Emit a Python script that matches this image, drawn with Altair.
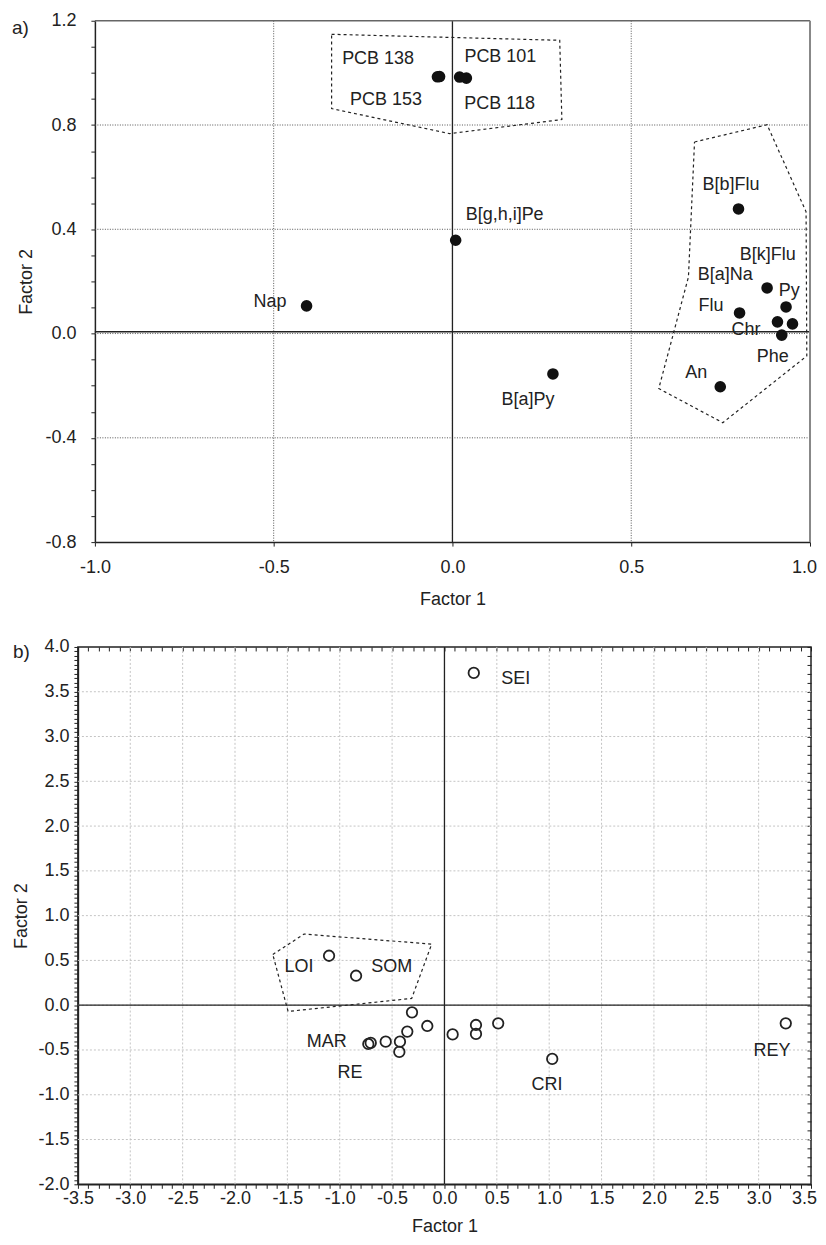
import altair as alt
import pandas as pd

FONT = "Liberation Sans"
INK = "#222222"

# ---------------- panel a) ----------------
a_names = ["PCB 138", "PCB 153", "PCB 101", "PCB 118", "B[g,h,i]Pe", "Nap", "B[a]Py",
           "B[b]Flu", "B[a]Na", "Py", "Flu", "B[k]Flu", "Chr", "Phe", "An"]
a_x = [-0.042, -0.036, 0.020, 0.039, 0.009, -0.408, 0.281,
       0.800, 0.880, 0.933, 0.803, 0.951, 0.909, 0.921, 0.749]
a_y = [0.985, 0.986, 0.984, 0.980, 0.358, 0.106, -0.155,
       0.478, 0.175, 0.102, 0.079, 0.037, 0.045, -0.006, -0.204]
a_lab_x = [-0.208, -0.186, 0.134, 0.132, 0.146, -0.510, 0.211,
           0.779, 0.763, 0.942, 0.723, 0.882, 0.821, 0.896, 0.682]
a_lab_y = [1.052, 0.897, 1.061, 0.880, 0.456, 0.121, -0.255,
           0.571, 0.226, 0.163, 0.106, 0.303, 0.013, -0.089, -0.153]

a_poly1_x = [-0.338, 0.300, 0.306, -0.008, -0.338, -0.338]
a_poly1_y = [1.148, 1.125, 0.821, 0.767, 0.863, 1.148]
a_poly2_x = [0.677, 0.880, 0.989, 0.991, 0.756, 0.577, 0.660, 0.677]
a_poly2_y = [0.735, 0.801, 0.467, -0.086, -0.342, -0.211, 0.217, 0.735]

a_xticks = [-1.0, -0.5, 0.0, 0.5, 1.0]
a_ygrid = [-0.8, -0.4, 0.0, 0.4, 0.8, 1.2]
a_yticks = [round(-0.8 + 0.1 * i, 2) for i in range(21)]

# ---------------- panel b) ----------------
b_names = ["SEI", "LOI", "SOM", "MAR", "RE", "", "", "", "", "", "", "", "", "", "", "CRI", "REY"]
b_x = [0.28, -1.102, -0.844, -0.727, -0.704, -0.561, -0.425, -0.431, -0.355, -0.310,
       -0.164, 0.078, 0.301, 0.301, 0.513, 1.029, 3.259]
b_y = [3.71, 0.552, 0.329, -0.433, -0.421, -0.407, -0.407, -0.522, -0.295, -0.080,
       -0.232, -0.326, -0.221, -0.321, -0.203, -0.600, -0.203]
b_lab_names = ["SEI", "LOI", "SOM", "MAR", "RE", "CRI", "REY"]
b_lab_x = [0.68, -1.388, -0.504, -1.124, -0.902, 0.979, 3.128]
b_lab_y = [3.64, 0.421, 0.429, -0.407, -0.760, -0.890, -0.507]

b_poly_x = [-1.639, -1.341, -0.122, -0.313, -1.493, -1.639]
b_poly_y = [0.566, 0.794, 0.682, 0.076, -0.070, 0.566]

b_grid_x = [-3.5, -3.0, -2.5, -2.0, -1.5, -1.0, -0.5, 0.0, 0.5, 1.0, 1.5, 2.0, 2.5, 3.0, 3.5]
b_grid_y = [-2.0, -1.5, -1.0, -0.5, 0.0, 0.5, 1.0, 1.5, 2.0, 2.5, 3.0, 3.5, 4.0]
b_xticks = [round(-3.5 + 0.1 * i, 2) for i in range(71)]
b_yticks_left = [round(-2.0 + 0.05 * i, 3) for i in range(121)]
b_yticks_right = [round(-2.0 + 0.1 * i, 2) for i in range(61)]

PW = 734      # group width of both panels
A_H = 522
B_H = 538
A_SHIFT = 17  # panel a) plot starts 17px right of panel b) plot


def lab_expr(step):
    return (f"(abs(datum.value/{step} - round(datum.value/{step})) < 0.01) ? "
            "((datum.value < -0.001 ? '-' : '') + format(abs(datum.value), '.1f')) : ''")


def last_label_offset(vmax, dx):
    # keep the right-most tick label inside the page
    return {"condition": {"test": f"datum.value >= {vmax - 0.01}", "value": dx}, "value": 0}


# ================= build panel a =================
df_a = pd.DataFrame({"name": a_names, "x": a_x, "y": a_y})
df_a_lab = pd.DataFrame({"name": a_names, "x": a_lab_x, "y": a_lab_y})
df_a_poly = pd.DataFrame({
    "poly": ["p1"] * len(a_poly1_x) + ["p2"] * len(a_poly2_x),
    "ord": list(range(len(a_poly1_x))) + list(range(len(a_poly2_x))),
    "x": a_poly1_x + a_poly2_x,
    "y": a_poly1_y + a_poly2_y,
})

xs_a = alt.Scale(domain=[-1, 1], nice=False, zero=False, range=[A_SHIFT, PW - 1])
ys_a = alt.Scale(domain=[-0.8, 1.2], nice=False, zero=False)

a_gx = alt.Chart(pd.DataFrame({"v": a_xticks[1:-1]})).mark_rule(
    color="#555555", strokeDash=[1, 1.5], strokeWidth=1
).encode(x=alt.X("v:Q", scale=xs_a, axis=None))
a_gy = alt.Chart(pd.DataFrame({"v": a_ygrid[1:-1], "x0": [-1.0] * 4, "x1": [1.0] * 4})).mark_rule(
    color="#555555", strokeDash=[1, 1.5], strokeWidth=1
).encode(y=alt.Y("v:Q", scale=ys_a, axis=None),
         x=alt.X("x0:Q", scale=xs_a, axis=None), x2="x1:Q")
a_zx = alt.Chart(pd.DataFrame({"v": [0.0]})).mark_rule(color=INK, strokeWidth=1.3).encode(
    x=alt.X("v:Q", scale=xs_a, axis=None))
a_zy = alt.Chart(pd.DataFrame({"v": [0.007], "x0": [-1.0], "x1": [1.0]})).mark_rule(
    color=INK, strokeWidth=1.3
).encode(y=alt.Y("v:Q", scale=ys_a, axis=None),
         x=alt.X("x0:Q", scale=xs_a, axis=None), x2="x1:Q")
# frame: top and right edges
a_ftop = alt.Chart(pd.DataFrame({"v": [1.2], "x0": [-1.0], "x1": [1.0]})).mark_rule(
    color="#666666", strokeWidth=1.5
).encode(y=alt.Y("v:Q", scale=ys_a, axis=None),
         x=alt.X("x0:Q", scale=xs_a, axis=None), x2="x1:Q")
a_fright = alt.Chart(pd.DataFrame({"v": [1.0]})).mark_rule(color="#888888", strokeWidth=2).encode(
    x=alt.X("v:Q", scale=xs_a, axis=None))

a_poly = alt.Chart(df_a_poly).mark_line(
    color=INK, strokeDash=[3, 3], strokeWidth=1.2
).encode(
    x=alt.X("x:Q", scale=xs_a, axis=None),
    y=alt.Y("y:Q", scale=ys_a, axis=None),
    detail="poly:N",
    order="ord:Q",
)

a_pts = alt.Chart(df_a).mark_circle(size=135, color="#111111", opacity=1).encode(
    x=alt.X("x:Q", scale=xs_a, title="Factor 1",
            axis=alt.Axis(values=a_xticks, labelExpr=lab_expr(0.5), grid=False, labelFlush=False,
                          labelOffset=last_label_offset(1.0, -6),
                          tickSize=4, labelPadding=12, titlePadding=14)),
    y=alt.Y("y:Q", scale=ys_a, title="Factor 2",
            axis=alt.Axis(values=a_yticks, labelExpr=lab_expr(0.4), grid=False, offset=-A_SHIFT,
                          tickSize=4, labelPadding=15, titlePadding=9)),
)

a_txt = alt.Chart(df_a_lab).mark_text(fontSize=18, font=FONT, color=INK).encode(
    x=alt.X("x:Q", scale=xs_a, axis=None),
    y=alt.Y("y:Q", scale=ys_a, axis=None),
    text="name:N",
)

a_tag = alt.Chart(pd.DataFrame({"t": ["a)"]})).mark_text(
    fontSize=19, font=FONT, color=INK, align="left", baseline="middle"
).encode(text="t:N", x=alt.value(-66), y=alt.value(7))

top = alt.layer(a_gx, a_gy, a_zx, a_zy, a_ftop, a_fright, a_poly, a_pts, a_txt, a_tag).resolve_axis(
    x="independent", y="independent"
).properties(
    width=PW, height=A_H,
    view=alt.ViewBackground(stroke=None),
)

# ================= build panel b =================
df_b = pd.DataFrame({"name": b_names, "x": b_x, "y": b_y})
df_b_lab = pd.DataFrame({"name": b_lab_names, "x": b_lab_x, "y": b_lab_y})
df_b_poly = pd.DataFrame({"poly": ["p"] * len(b_poly_x), "ord": list(range(len(b_poly_x))),
                          "x": b_poly_x, "y": b_poly_y})

xs_b = alt.Scale(domain=[-3.5, 3.5], nice=False, zero=False)
ys_b = alt.Scale(domain=[-2.0, 4.0], nice=False, zero=False)

b_gx = alt.Chart(pd.DataFrame({"v": b_grid_x[1:-1]})).mark_rule(
    color="#c4c4c4", strokeDash=[2, 2], strokeWidth=1
).encode(x=alt.X("v:Q", scale=xs_b, axis=None))
b_gy = alt.Chart(pd.DataFrame({"v": b_grid_y[1:-1]})).mark_rule(
    color="#c4c4c4", strokeDash=[2, 2], strokeWidth=1
).encode(y=alt.Y("v:Q", scale=ys_b, axis=None))
b_zx = alt.Chart(pd.DataFrame({"v": [0.0]})).mark_rule(color=INK, strokeWidth=1.3).encode(
    x=alt.X("v:Q", scale=xs_b, axis=None))
b_zy = alt.Chart(pd.DataFrame({"v": [0.0]})).mark_rule(color=INK, strokeWidth=1.3).encode(
    y=alt.Y("v:Q", scale=ys_b, axis=None))

b_poly = alt.Chart(df_b_poly).mark_line(
    color=INK, strokeDash=[3, 3], strokeWidth=1.2
).encode(
    x=alt.X("x:Q", scale=xs_b, axis=None),
    y=alt.Y("y:Q", scale=ys_b, axis=None),
    detail="poly:N",
    order="ord:Q",
)

b_pts = alt.Chart(df_b).mark_point(
    shape="circle", size=110, filled=False, color=INK, strokeWidth=1.8, opacity=1
).encode(
    x=alt.X("x:Q", scale=xs_b, title="Factor 1",
            axis=alt.Axis(values=b_xticks, labelExpr=lab_expr(0.5), grid=False, orient="bottom",
                          labelFlush=False, labelOffset=last_label_offset(3.5, -7),
                          tickSize=4, labelPadding=1, titlePadding=10)),
    y=alt.Y("y:Q", scale=ys_b, title="Factor 2",
            axis=alt.Axis(values=b_yticks_left, labelExpr=lab_expr(0.5), grid=False, orient="left",
                          tickSize=4, labelPadding=5, titlePadding=7)),
)

# inward ticks on the top and right edges
b_ticks2 = alt.Chart(df_b).mark_point(opacity=0).encode(
    x=alt.X("x:Q", scale=xs_b,
            axis=alt.Axis(values=b_xticks, orient="bottom", labels=False, domain=False, grid=False,
                          tickSize=4, offset=-B_H, title=None)),
    y=alt.Y("y:Q", scale=ys_b,
            axis=alt.Axis(values=b_yticks_right, orient="left", labels=False, domain=False,
                          grid=False, tickSize=4, offset=-PW, title=None)),
)

b_txt = alt.Chart(df_b_lab).mark_text(fontSize=18, font=FONT, color=INK).encode(
    x=alt.X("x:Q", scale=xs_b, axis=None),
    y=alt.Y("y:Q", scale=ys_b, axis=None),
    text="name:N",
)

b_tag = alt.Chart(pd.DataFrame({"t": ["b)"]})).mark_text(
    fontSize=19, font=FONT, color=INK, align="left", baseline="middle"
).encode(text="t:N", x=alt.value(-65), y=alt.value(5))

bottom = alt.layer(b_gx, b_gy, b_zx, b_zy, b_poly, b_pts, b_ticks2, b_txt, b_tag).resolve_axis(
    x="independent", y="independent"
).properties(
    width=PW, height=B_H,
    view=alt.ViewBackground(stroke=INK, strokeWidth=1.5),
)

chart = alt.concat(top, bottom, columns=1, spacing=29).properties(
    padding={"left": 4, "top": 3, "right": 0, "bottom": 0}
).configure_axis(
    labelFont=FONT, titleFont=FONT, labelFontSize=18, titleFontSize=18,
    labelColor=INK, titleColor=INK, titleFontWeight="normal",
    domainColor=INK, domainWidth=1.5, tickColor=INK, tickWidth=1,
).configure_text(font=FONT)

chart.save("out.html", embed_options={"renderer": "svg", "actions": False})
